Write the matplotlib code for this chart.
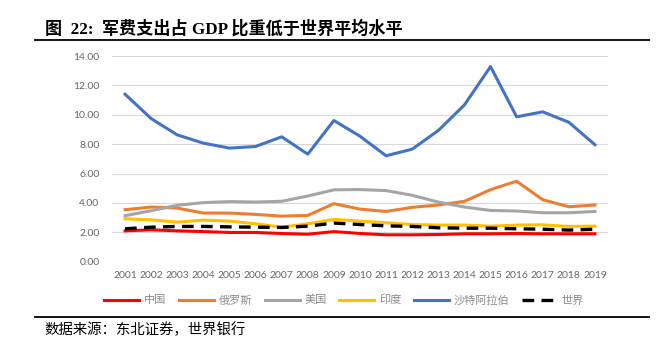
import matplotlib.pyplot as plt
import numpy as np

plt.rcParams['font.family'] = ['Lato', 'Noto Sans CJK SC', 'DejaVu Sans']

years = [str(y) for y in range(2001, 2020)]

china = [2.10, 2.17, 2.10, 2.05, 1.99, 1.99, 1.92, 1.87, 2.05, 1.92,
         1.83, 1.83, 1.85, 1.90, 1.90, 1.92, 1.90, 1.90, 1.90]
russia = [3.54, 3.72, 3.65, 3.31, 3.31, 3.22, 3.10, 3.15, 3.95, 3.58,
          3.42, 3.70, 3.86, 4.11, 4.90, 5.48, 4.22, 3.74, 3.86]
usa = [3.13, 3.47, 3.84, 4.02, 4.09, 4.06, 4.11, 4.47, 4.89, 4.91,
       4.84, 4.52, 4.06, 3.72, 3.49, 3.45, 3.33, 3.33, 3.42]
india = [2.92, 2.85, 2.69, 2.83, 2.76, 2.58, 2.35, 2.58, 2.88, 2.76,
         2.65, 2.53, 2.49, 2.49, 2.42, 2.49, 2.51, 2.40, 2.42]
saudi = [11.40, 9.74, 8.63, 8.07, 7.73, 7.84, 8.50, 7.32, 9.61, 8.54,
         7.21, 7.66, 8.93, 10.67, 13.28, 9.86, 10.20, 9.49, 7.96]
world = [2.24, 2.35, 2.40, 2.40, 2.37, 2.35, 2.33, 2.42, 2.63, 2.53,
         2.44, 2.40, 2.31, 2.28, 2.28, 2.24, 2.21, 2.15, 2.21]

names = ['中国', '俄罗斯', '美国', '印度', '沙特阿拉伯', '世界']

fig = plt.figure(figsize=(6.72, 3.55), dpi=100)
ax = fig.add_axes([112 / 672, 1 - 261.7 / 355, (608 - 112) / 672, (261.7 - 56) / 355])

x = np.arange(len(years))
lw = 2.2
ax.plot(x, china, color='#FF0000', lw=lw, label=names[0])
ax.plot(x, russia, color='#ED7D31', lw=lw, label=names[1])
ax.plot(x, usa, color='#A5A5A5', lw=lw, label=names[2])
ax.plot(x, india, color='#FFC000', lw=lw, label=names[3])
ax.plot(x, saudi, color='#4472C4', lw=lw, label=names[4])
ax.plot(x, world, color='black', lw=2.4, ls=(0, (3.5, 2.2)), label=names[5])

ax.set_xlim(-0.5, len(years) - 0.5)
ax.set_ylim(0, 14)
ax.set_yticks(np.arange(0, 15, 2))
ax.set_yticklabels(['%.2f' % v for v in np.arange(0, 15, 2)])
ax.set_xticks(x)
ax.set_xticklabels(years)
ax.tick_params(axis='both', length=0, labelsize=7.5, labelcolor='#666666')
ax.tick_params(axis='y', pad=9)
ax.tick_params(axis='x', pad=7)
ax.grid(axis='y', color='#d9d9d9', lw=0.8)
ax.set_axisbelow(True)
for s in ax.spines.values():
    s.set_visible(False)

leg = fig.legend(loc='center', bbox_to_anchor=(344 / 672, 1 - 300 / 355), ncol=6,
                 frameon=False, fontsize=8, handlelength=3.15, handletextpad=0.42,
                 columnspacing=1.14)
for t in leg.get_texts():
    t.set_color('#8c8c8c')

# title and source
fig.text(45 / 672, 1 - 28.3 / 355, '图  22:  军费支出占 GDP 比重低于世界平均水平',
         family=['Liberation Serif', 'Noto Sans CJK SC'], fontsize=12.3,
         fontweight='bold', va='center', ha='left')
fig.add_artist(plt.Line2D([35 / 672, 649 / 672], [1 - 40 / 355, 1 - 40 / 355],
                          color='black', lw=1.3))
fig.add_artist(plt.Line2D([35 / 672, 649 / 672], [1 - 316.7 / 355, 1 - 316.7 / 355],
                          color='black', lw=1.3))
fig.text(44 / 672, 1 - 329.3 / 355, '数据来源：东北证券，世界银行',
         family=['Noto Sans CJK SC'], fontsize=10.4, va='center', ha='left')

fig.savefig('out.png', dpi=100)
